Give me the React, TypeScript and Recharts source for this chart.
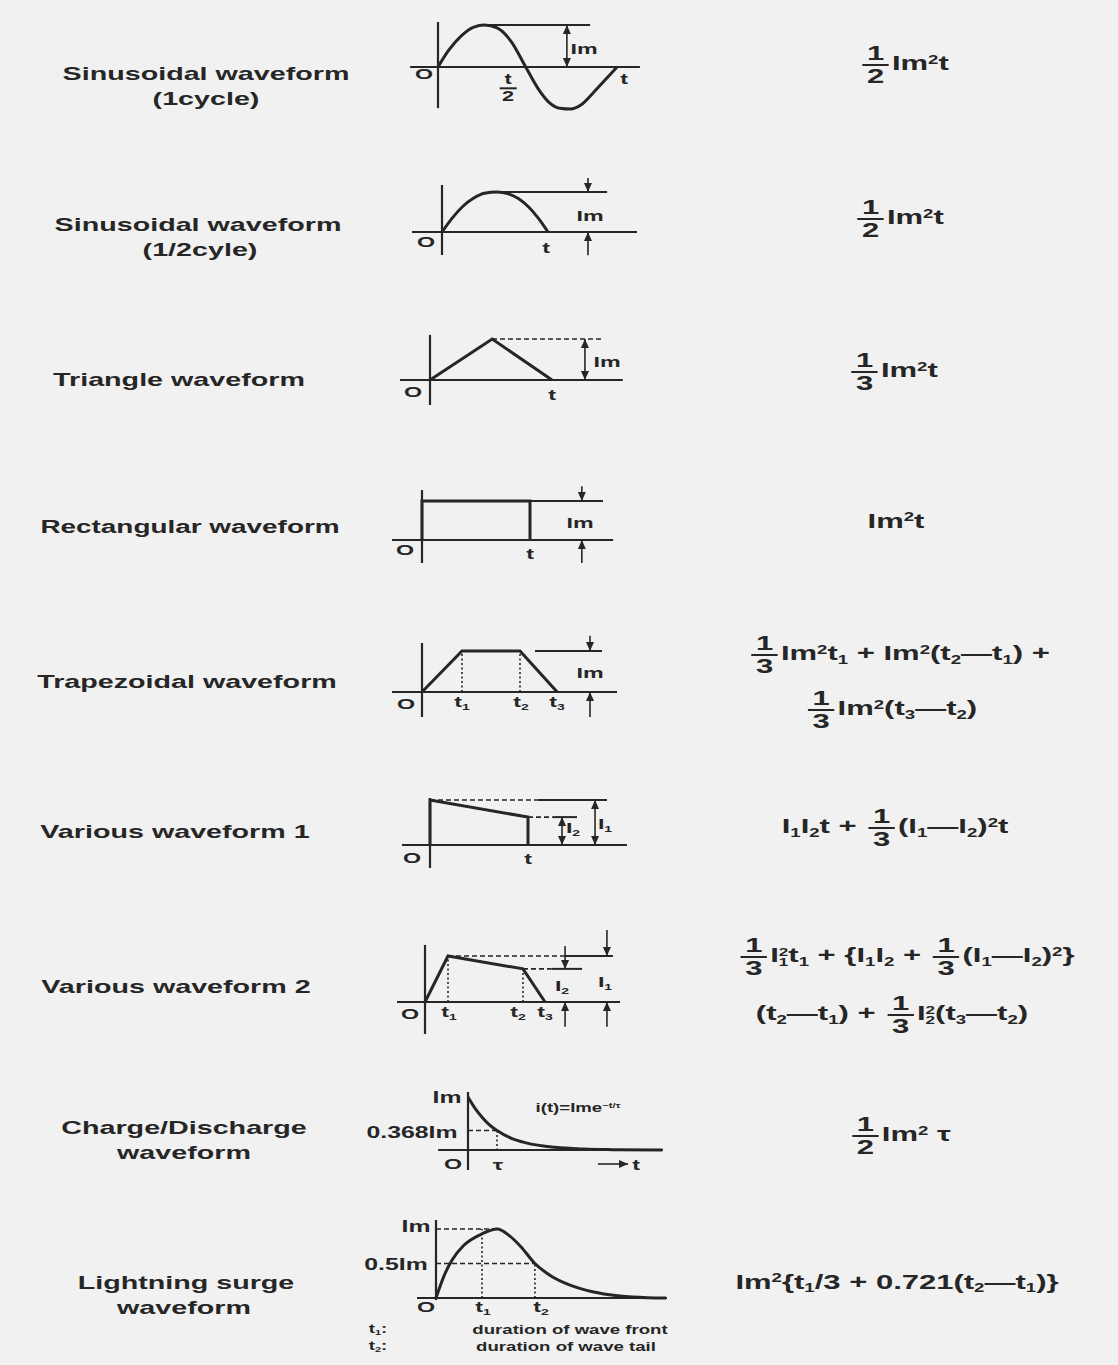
import React from "react";
import { LineChart, Line, XAxis, YAxis, ReferenceLine } from "recharts";

// waveform values (x in units of t / t1 / tau, y in units of Im / I1)
const sine1X = [0, 0.06, 0.13, 0.2, 0.26, 0.33, 0.41, 0.49, 0.56, 0.62, 0.68, 0.74, 0.8, 0.87, 0.94, 1];
const sine1Y = [0, 0.4, 0.74, 0.95, 1, 0.93, 0.6, 0, -0.52, -0.84, -0.98, -1, -0.9, -0.6, -0.28, 0];
const halfX = [0, 0.1, 0.2, 0.3, 0.4, 0.52, 0.62, 0.72, 0.82, 0.91, 1];
const halfY = [0, 0.36, 0.65, 0.85, 0.97, 1, 0.96, 0.84, 0.62, 0.34, 0];
const triX = [0, 0.51, 1];
const triY = [0, 1, 0];
const rectX = [0, 0, 1, 1];
const rectY = [0, 1, 1, 0];
const trapX = [0, 1, 2.45, 3.38];
const trapY = [0, 1, 1, 0];
const var1X = [0, 0, 1, 1];
const var1Y = [0, 1, 0.62, 0];
const var2X = [0, 1, 4.26, 5.22];
const var2Y = [0, 1, 0.72, 0];
const chargeX = [0, 0.25, 0.5, 0.75, 1, 1.5, 2, 3, 4, 5, 6.7];
const chargeY = [1, 0.78, 0.61, 0.47, 0.368, 0.22, 0.135, 0.05, 0.018, 0.007, 0];
const surgeX = [0, 0.2, 0.35, 0.6, 1, 1.33, 1.6, 1.85, 2.15, 2.5, 2.9, 3.4, 4, 4.6, 5];
const surgeY = [0, 0.36, 0.55, 0.76, 0.93, 1, 0.9, 0.74, 0.5, 0.32, 0.19, 0.09, 0.03, 0.005, 0];

const INK = "#262626";
const BG = "#f1f1f1";
const FONT = '"Liberation Sans", Arial, Helvetica, sans-serif';
const STRETCH = 1.55;

type Pt = [number, number];
type Kind = "axis" | "solid" | "dash" | "dot" | "arrow" | "arrow2";
type Ann = [Kind, Pt, Pt];
type Panel = {
  box: [number, number, number, number];
  origin: [number, number];
  scale: [number, number];
  xs: number[];
  ys: number[];
  curve: "linear" | "monotone";
  anns: Ann[];
};

const panels: Panel[] = [
  {
    box: [400, 15, 250, 100], origin: [438, 67], scale: [179, 42],
    xs: sine1X, ys: sine1Y, curve: "monotone",
    anns: [
      ["axis", [-0.156, 0], [1.128, 0]], ["axis", [0, 1.07], [0, -0.98]],
      ["solid", [0.263, 1], [0.85, 1]], ["arrow2", [0.72, 1], [0.72, 0]],
    ],
  },
  {
    box: [405, 172, 240, 90], origin: [442, 232], scale: [106, 40],
    xs: halfX, ys: halfY, curve: "monotone",
    anns: [
      ["axis", [-0.283, 0], [1.84, 0]], ["axis", [0, 1.175], [0, -0.575]],
      ["solid", [0.52, 1], [1.557, 1]],
      ["arrow", [1.377, 1.35], [1.377, 1]], ["arrow", [1.377, -0.58], [1.377, 0]],
    ],
  },
  {
    box: [392, 328, 240, 85], origin: [430, 380], scale: [122, 41],
    xs: triX, ys: triY, curve: "linear",
    anns: [
      ["axis", [-0.246, 0], [1.58, 0]], ["axis", [0, 1.1], [0, -0.61]],
      ["dash", [0.508, 1], [1.418, 1]], ["arrow2", [1.27, 1], [1.27, 0]],
    ],
  },
  {
    box: [385, 480, 235, 90], origin: [422, 540], scale: [108, 39],
    xs: rectX, ys: rectY, curve: "linear",
    anns: [
      ["axis", [-0.278, 0], [1.77, 0]], ["axis", [0, 1.28], [0, -0.59]],
      ["solid", [1, 1], [1.676, 1]],
      ["arrow", [1.48, 1.38], [1.48, 1]], ["arrow", [1.48, -0.59], [1.48, 0]],
    ],
  },
  {
    box: [385, 628, 240, 95], origin: [422, 692], scale: [40, 41],
    xs: trapX, ys: trapY, curve: "linear",
    anns: [
      ["axis", [-0.75, 0], [4.875, 0]], ["axis", [0, 1.195], [0, -0.61]],
      ["dot", [1, 0], [1, 1]], ["dot", [2.45, 0], [2.45, 1]],
      ["solid", [2.825, 1], [4.5, 1]],
      ["arrow", [4.2, 1.37], [4.2, 1]], ["arrow", [4.2, -0.61], [4.2, 0]],
    ],
  },
  {
    box: [395, 790, 240, 85], origin: [430, 845], scale: [98, 45],
    xs: var1X, ys: var1Y, curve: "linear",
    anns: [
      ["axis", [-0.286, 0], [2.01, 0]], ["axis", [0, 1.044], [0, -0.51]],
      ["dash", [0, 1], [1.1, 1]], ["solid", [1.1, 1], [1.806, 1]],
      ["dash", [1, 0.62], [1.25, 0.62]], ["solid", [1.25, 0.62], [1.5, 0.62]],
      ["arrow2", [1.347, 0.62], [1.347, 0]], ["arrow2", [1.684, 1], [1.684, 0]],
    ],
  },
  {
    box: [390, 922, 240, 112], origin: [425, 1002], scale: [23, 46],
    xs: var2X, ys: var2Y, curve: "linear",
    anns: [
      ["axis", [-1.217, 0], [8.48, 0]], ["axis", [0, 1.24], [0, -1.087]],
      ["dot", [1, 0], [1, 1]], ["dot", [4.26, 0], [4.26, 0.72]],
      ["dash", [1, 1], [6.09, 1]], ["solid", [6.09, 1], [8.17, 1]],
      ["dash", [4.26, 0.72], [5.5, 0.72]], ["solid", [5.5, 0.72], [6.83, 0.72]],
      ["arrow", [6.09, 1.22], [6.09, 0.72]], ["arrow", [6.09, -0.54], [6.09, 0]],
      ["arrow", [7.91, 1.565], [7.91, 1]], ["arrow", [7.91, -0.54], [7.91, 0]],
    ],
  },
  {
    box: [430, 1085, 240, 90], origin: [468, 1150], scale: [29, 53],
    xs: chargeX, ys: chargeY, curve: "monotone",
    anns: [
      ["axis", [-1.03, 0], [6.72, 0]], ["axis", [0, 1.094], [0, -0.377]],
      ["dash", [0, 0.368], [1, 0.368]], ["dot", [1, 0.368], [1, 0]],
      ["arrow", [4.48, -0.264], [5.52, -0.264]],
    ],
  },
  {
    box: [410, 1212, 265, 95], origin: [436, 1298], scale: [46, 69],
    xs: surgeX, ys: surgeY, curve: "monotone",
    anns: [
      ["axis", [-0.413, 0], [5.02, 0]], ["axis", [0, 1.13], [0, -0.03]],
      ["dash", [0, 1], [1.33, 1]], ["dash", [0, 0.5], [2.15, 0.5]],
      ["dot", [1, 0], [1, 1]], ["dot", [2.15, 0], [2.15, 0.5]],
    ],
  },
];

const arrowShape = (both: boolean) => (p: any) => {
  const { x1, y1, x2, y2 } = p;
  const head = (hx: number, hy: number, fx: number, fy: number) => {
    const L = Math.hypot(hx - fx, hy - fy) || 1;
    const ux = (hx - fx) / L;
    const uy = (hy - fy) / L;
    const bx = hx - ux * 9;
    const by = hy - uy * 9;
    return (
      <polygon
        points={`${hx},${hy} ${bx - uy * 4},${by + ux * 4} ${bx + uy * 4},${by - ux * 4}`}
        fill={INK}
      />
    );
  };
  return (
    <g>
      <line x1={x1} y1={y1} x2={x2} y2={y2} stroke={INK} strokeWidth={1.6} />
      {head(x2, y2, x1, y1)}
      {both && head(x1, y1, x2, y2)}
    </g>
  );
};

function Wave({ cfg }: { cfg: Panel }) {
  const [left, top, w, h] = cfg.box;
  const [ox, oy] = cfg.origin;
  const [sx, sy] = cfg.scale;
  const xDom: [number, number] = [(left - ox) / sx, (left + w - ox) / sx];
  const yDom: [number, number] = [(oy - top - h) / sy, (oy - top) / sy];
  const rows = cfg.xs.map((x, i) => ({ x, y: cfg.ys[i] }));
  return (
    <div style={{ position: "absolute", left, top }}>
      <LineChart width={w} height={h} data={rows} margin={{ top: 0, right: 0, bottom: 0, left: 0 }}>
        <XAxis type="number" dataKey="x" domain={xDom} allowDataOverflow hide />
        <YAxis type="number" domain={yDom} allowDataOverflow hide />
        {cfg.anns.map(([kind, a, b], i) => (
          <ReferenceLine
            key={i}
            segment={[{ x: a[0], y: a[1] }, { x: b[0], y: b[1] }]}
            ifOverflow="visible"
            stroke={INK}
            strokeWidth={kind === "axis" ? 2.2 : kind === "solid" ? 2 : 1.6}
            strokeDasharray={kind === "dash" ? "5 3" : kind === "dot" ? "2 2.5" : undefined}
            shape={kind === "arrow" ? arrowShape(false) : kind === "arrow2" ? arrowShape(true) : undefined}
          />
        ))}
        <Line
          dataKey="y"
          type={cfg.curve}
          stroke={INK}
          strokeWidth={3}
          dot={false}
          isAnimationActive={false}
        />
      </LineChart>
    </div>
  );
}

function T({ x, y, size = 15, children }: { x: number; y: number; size?: number; children: React.ReactNode }) {
  return (
    <div
      style={{
        position: "absolute",
        left: x,
        top: y,
        transform: `translate(-50%, -50%) scaleX(${STRETCH})`,
        fontSize: size,
        fontWeight: 700,
        lineHeight: 1,
        whiteSpace: "nowrap",
        color: INK,
      }}
    >
      {children}
    </div>
  );
}

const Sub = ({ c }: { c: string }) => (
  <span style={{ fontSize: "0.6em", verticalAlign: "-0.3em" }}>{c}</span>
);
const Sup = ({ c }: { c: string }) => (
  <span style={{ fontSize: "0.6em", verticalAlign: "0.55em" }}>{c}</span>
);
const SubSup = ({ sub, sup }: { sub: string; sup: string }) => (
  <span style={{ display: "inline-flex", flexDirection: "column", fontSize: "0.55em", lineHeight: 0.95, verticalAlign: "middle" }}>
    <span>{sup}</span>
    <span>{sub}</span>
  </span>
);
const Frac = ({ n, d }: { n: string; d: string }) => (
  <span style={{ display: "inline-flex", flexDirection: "column", alignItems: "center", verticalAlign: "middle", margin: "0 2px", lineHeight: 1.05 }}>
    <span style={{ borderBottom: `2px solid ${INK}`, padding: "0 3px" }}>{n}</span>
    <span>{d}</span>
  </span>
);

const D = "\u2014";
const FS = 20;

export default function App() {
  return (
    <div
      style={{
        position: "absolute",
        left: 0,
        top: 0,
        width: 1118,
        height: 1365,
        background: BG,
        overflow: "hidden",
        fontFamily: FONT,
        color: INK,
      }}
    >
      {panels.map((p, i) => (
        <Wave key={i} cfg={p} />
      ))}

      {/* row titles */}
      <T x={206} y={74} size={18.5}>Sinusoidal waveform</T>
      <T x={206} y={99} size={18.5}>(1cycle)</T>
      <T x={198} y={225} size={18.5}>Sinusoidal waveform</T>
      <T x={200} y={250} size={18.5}>(1/2cyle)</T>
      <T x={179} y={380} size={18.5}>Triangle waveform</T>
      <T x={190} y={527} size={18}>Rectangular waveform</T>
      <T x={187} y={682} size={18.5}>Trapezoidal waveform</T>
      <T x={175} y={832} size={18.5}>Various waveform 1</T>
      <T x={176} y={987} size={18.5}>Various waveform 2</T>
      <T x={184} y={1128} size={18.5}>Charge/Discharge</T>
      <T x={184} y={1153} size={18.5}>waveform</T>
      <T x={186} y={1283} size={18.5}>Lightning surge</T>
      <T x={184} y={1308} size={18.5}>waveform</T>

      {/* labels inside the sketches */}
      <T x={584} y={48}>Im</T>
      <T x={424} y={73}>O</T>
      <T x={624} y={78}>t</T>
      <T x={508} y={88} size={14}><Frac n="t" d="2" /></T>

      <T x={590} y={215}>Im</T>
      <T x={426} y={241}>O</T>
      <T x={546} y={247}>t</T>

      <T x={607} y={361}>Im</T>
      <T x={413} y={391}>O</T>
      <T x={552} y={394}>t</T>

      <T x={580} y={522}>Im</T>
      <T x={405} y={549}>O</T>
      <T x={530} y={553}>t</T>

      <T x={590} y={672}>Im</T>
      <T x={406} y={703}>O</T>
      <T x={462} y={703}>t<Sub c="1" /></T>
      <T x={521} y={703}>t<Sub c="2" /></T>
      <T x={557} y={703}>t<Sub c="3" /></T>

      <T x={573} y={829}>I<Sub c="2" /></T>
      <T x={605} y={825}>I<Sub c="1" /></T>
      <T x={412} y={857}>O</T>
      <T x={528} y={858}>t</T>

      <T x={562} y={987}>I<Sub c="2" /></T>
      <T x={605} y={983}>I<Sub c="1" /></T>
      <T x={410} y={1013}>O</T>
      <T x={449} y={1013}>t<Sub c="1" /></T>
      <T x={518} y={1013}>t<Sub c="2" /></T>
      <T x={545} y={1013}>t<Sub c="3" /></T>

      <T x={447} y={1098} size={16}>Im</T>
      <T x={412} y={1133} size={16}>0.368Im</T>
      <T x={578} y={1108} size={12}>i(t)=Ime<Sup c={"\u2212t/\u03c4"} /></T>
      <T x={453} y={1163}>O</T>
      <T x={498} y={1164}>{"\u03c4"}</T>
      <T x={636} y={1164}>t</T>

      <T x={416} y={1227} size={16}>Im</T>
      <T x={396} y={1265} size={16}>0.5Im</T>
      <T x={426} y={1306}>O</T>
      <T x={483} y={1308}>t<Sub c="1" /></T>
      <T x={541} y={1308}>t<Sub c="2" /></T>
      <T x={378} y={1330} size={12}>t<Sub c="1" />:</T>
      <T x={378} y={1347} size={12}>t<Sub c="2" />:</T>
      <T x={570} y={1330} size={12}>duration of wave front</T>
      <T x={566} y={1347} size={12}>duration of wave tail</T>

      {/* formulas */}
      <T x={904} y={65} size={FS}><Frac n="1" d="2" />Im<Sup c="2" />t</T>
      <T x={899} y={219} size={FS}><Frac n="1" d="2" />Im<Sup c="2" />t</T>
      <T x={893} y={372} size={FS}><Frac n="1" d="3" />Im<Sup c="2" />t</T>
      <T x={896} y={521} size={FS}>Im<Sup c="2" />t</T>
      <T x={899} y={655} size={FS}>
        <Frac n="1" d="3" />Im<Sup c="2" />t<Sub c="1" /> + Im<Sup c="2" />(t<Sub c="2" />{D}t<Sub c="1" />) +
      </T>
      <T x={891} y={710} size={FS}>
        <Frac n="1" d="3" />Im<Sup c="2" />(t<Sub c="3" />{D}t<Sub c="2" />)
      </T>
      <T x={895} y={828} size={FS}>
        I<Sub c="1" />I<Sub c="2" />t + <Frac n="1" d="3" />(I<Sub c="1" />{D}I<Sub c="2" />)<Sup c="2" />t
      </T>
      <T x={906} y={957} size={FS}>
        <Frac n="1" d="3" />I<SubSup sup="2" sub="1" />t<Sub c="1" /> + {"{"}I<Sub c="1" />I<Sub c="2" /> + <Frac n="1" d="3" />(I<Sub c="1" />{D}I<Sub c="2" />)<Sup c="2" />{"}"}
      </T>
      <T x={892} y={1015} size={FS}>
        (t<Sub c="2" />{D}t<Sub c="1" />) + <Frac n="1" d="3" />I<SubSup sup="2" sub="2" />(t<Sub c="3" />{D}t<Sub c="2" />)
      </T>
      <T x={900} y={1136} size={FS}><Frac n="1" d="2" />Im<Sup c="2" /> {"\u03c4"}</T>
      <T x={897} y={1283} size={FS}>
        Im<Sup c="2" />{"{"}t<Sub c="1" />/3 + 0.721(t<Sub c="2" />{D}t<Sub c="1" />){"}"}
      </T>
    </div>
  );
}
